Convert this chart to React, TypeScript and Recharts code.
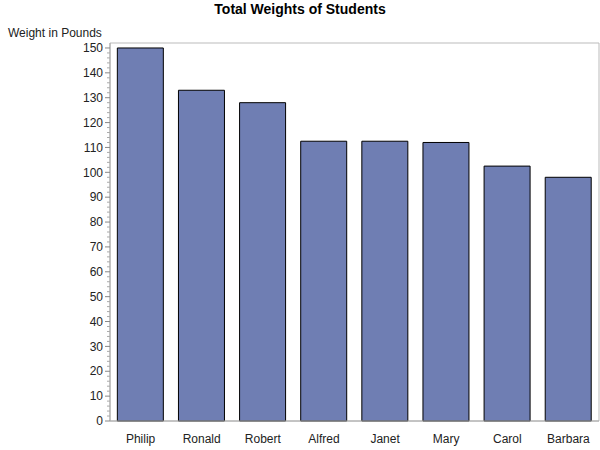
import React from "react";
import { BarChart, Bar, XAxis, YAxis, ReferenceArea } from "recharts";

const students = ["Philip", "Ronald", "Robert", "Alfred", "Janet", "Mary", "Carol", "Barbara"];
const weights = [150, 133, 128, 112.5, 112.5, 112, 102.5, 98];
const yTicks = [0, 10, 20, 30, 40, 50, 60, 70, 80, 90, 100, 110, 120, 130, 140, 150];
const minorStep = 2;

const data = students.map((name, i) => ({ name, weight: weights[i] }));

const allTicks: number[] = [];
for (let v = 0; v <= 150; v += minorStep) allTicks.push(v);

const FONT = "'Liberation Sans', Arial, sans-serif";

const YTick = (props: any) => {
  const { x, y, payload } = props;
  const v = payload.value;
  const major = yTicks.includes(v);
  return (
    <g>
      <line x1={x - (major ? 5 : 3)} x2={x} y1={y} y2={y} stroke={major ? "#888" : "#aaa"} strokeWidth={1} />
      {major && (
        <text x={x - 7} y={y} dy="0.35em" textAnchor="end" fill="#222" fontSize={12} fontFamily={FONT}>
          {v}
        </text>
      )}
    </g>
  );
};

export default function App() {
  return (
    <div style={{ position: "absolute", left: 0, top: 0, width: 600, height: 450, background: "#fff" }}>
      <div
        style={{
          position: "absolute",
          left: 0,
          top: 1,
          width: 600,
          textAlign: "center",
          fontFamily: FONT,
          fontWeight: "bold",
          fontSize: 14,
          lineHeight: "16px",
          color: "#000",
        }}
      >
        Total Weights of Students
      </div>
      <div
        style={{
          position: "absolute",
          left: 8,
          top: 26,
          fontFamily: FONT,
          fontSize: 12,
          lineHeight: "14px",
          color: "#222",
        }}
      >
        Weight in Pounds
      </div>
      <BarChart
        width={600}
        height={450}
        data={data}
        margin={{ top: 43, right: 1, bottom: 0, left: 0 }}
        barCategoryGap="12%"
      >
        <XAxis
          dataKey="name"
          axisLine={{ stroke: "#aaa" }}
          tickLine={false}
          tick={{ fill: "#222", fontSize: 12, fontFamily: FONT }}
          tickMargin={7}
          height={29}
        />
        <YAxis
          type="number"
          domain={[0, 152]}
          ticks={allTicks}
          interval={0}
          width={110}
          axisLine={{ stroke: "#aaa" }}
          tickLine={false}
          tickSize={0}
          tickMargin={0}
          tick={<YTick />}
        />
        <ReferenceArea y1={0} y2={152} fill="none" stroke="#bbb" strokeWidth={1} ifOverflow="visible" />
        <Bar dataKey="weight" fill="#6F7EB3" stroke="#000" strokeWidth={1} isAnimationActive={false} />
      </BarChart>
    </div>
  );
}
